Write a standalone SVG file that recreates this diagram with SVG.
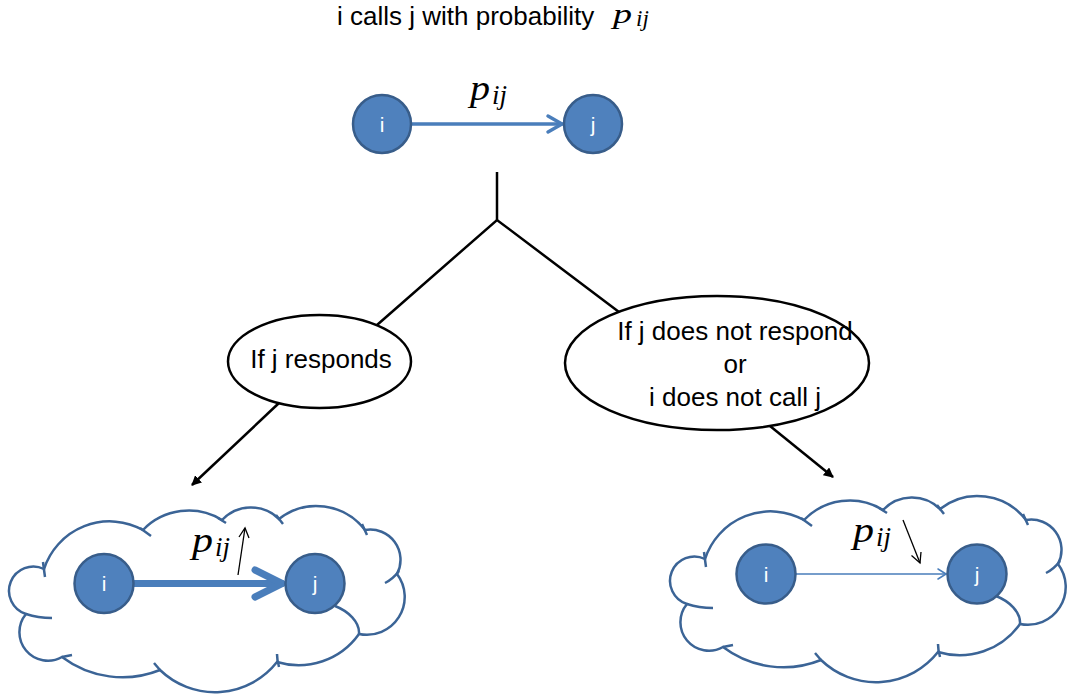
<svg xmlns="http://www.w3.org/2000/svg" xmlns:xlink="http://www.w3.org/1999/xlink" width="1069" height="696" viewBox="0 0 1069 696">
<style>
.txt{font-family:"Liberation Sans",Arial,sans-serif;font-size:26px;fill:#000}
.lbl{font-family:"Liberation Sans",Arial,sans-serif;font-size:21px;fill:#fff;text-anchor:middle}
.math{font-family:"Liberation Serif","Times New Roman",serif;font-style:italic;fill:#000}
.p{font-size:36px}
.sub{font-size:27px}
.node{fill:#4f81bd;stroke:#385d8a;stroke-width:2.5}
.ell{fill:#fff;stroke:#000;stroke-width:2.5}
.tree{fill:none;stroke:#000;stroke-width:2.5}
.blue{fill:none;stroke:#4a7ebb;stroke-linecap:round;stroke-linejoin:round}
.thin{fill:none;stroke:#000;stroke-width:1.3}
.cloud{fill:#fff;stroke:#3b6496;stroke-width:2.5}
.stub{fill:none;stroke:#3b6496;stroke-width:2.5}
</style>
<defs>
<g id="cloudShape">
<path class="cloud" d="M44,569 A69 69 0 0 1 143,530 A63.6 63.6 0 0 1 222,520 A39.8 39.8 0 0 1 279,519 A61 61 0 0 1 365,530 A30.3 30.3 0 0 1 397,574 A37.9 37.9 0 0 1 359,634 A74 74 0 0 1 277,662 A79 79 0 0 1 160,670 A100.5 100.5 0 0 1 62,657 A28.5 28.5 0 0 1 26,614 A24.3 24.3 0 1 1 44,569 Z"/>
<path class="stub" d="M43,562 Q44,570 45,577 M140,528 L151,536 M218,518 L226,523 M276,515 L283,524 M362,524 L367,535 M399,571 Q393,579 385,583 M359,634 C360,622 348,611 335,606 M279,667 Q277,660 277,654 M160,670 L154,663 M62,657 L72,655 M26,614 Q38,618 52,618"/>
</g>
<marker id="ah" markerWidth="10" markerHeight="10" refX="9" refY="5" orient="auto" markerUnits="userSpaceOnUse" viewBox="0 0 10 10">
<path d="M0,0 L10,5 L0,10 Z" fill="#000"/>
</marker>
</defs>

<text id="title" class="txt" x="337" y="25">i calls j with probability</text>
<g id="title-math" class="math">
<text x="613" y="23" font-size="28" textLength="19" lengthAdjust="spacingAndGlyphs">p</text>
<text x="636" y="26" font-size="23">ij</text>
</g>

<g id="cloud-left"><use xlink:href="#cloudShape"/></g>
<g id="cloud-right"><use xlink:href="#cloudShape" transform="translate(661,-10)"/></g>

<g id="connectors">
<line class="blue" x1="411" y1="124" x2="562" y2="124" stroke-width="3.5"/>
<polyline class="blue" points="548,116 562,124 548,132" stroke-width="3.5"/>
<line class="tree" x1="497" y1="172" x2="497" y2="220"/>
<polyline class="tree" points="377,325 497,220 619,312"/>
<line class="tree" x1="279" y1="403" x2="192" y2="485" marker-end="url(#ah)"/>
<line class="tree" x1="770" y1="426" x2="833" y2="477" marker-end="url(#ah)"/>
<line class="blue" x1="133" y1="583.5" x2="282" y2="583.5" stroke-width="7"/>
<polyline class="blue" points="255,570 282,583.5 255,597" stroke-width="7"/>
<line class="blue" x1="796" y1="574" x2="946" y2="574" stroke-width="1.5"/>
<polyline class="blue" points="938,569 946,574 938,579" stroke-width="1.5"/>
<line class="thin" x1="238" y1="575" x2="245" y2="528"/>
<polyline class="thin" points="239,537 245,528 249,538"/>
<line class="thin" x1="903" y1="520" x2="920" y2="563"/>
<polyline class="thin" points="911.5,555.5 920,563 921,552"/>
</g>

<g id="node-top-i"><circle class="node" cx="382" cy="124" r="29"/><text class="lbl" x="382" y="131.5">i</text></g>
<g id="node-top-j"><circle class="node" cx="593" cy="124" r="29"/><text class="lbl" x="593" y="131.5">j</text></g>
<g id="label-top" class="math">
<text class="p" x="470" y="100" textLength="20" lengthAdjust="spacingAndGlyphs">p</text>
<text class="sub" x="492" y="104">ij</text>
</g>

<g id="cond-responds"><ellipse class="ell" cx="319.5" cy="361.5" rx="91.5" ry="46.5"/><text class="txt" x="321" y="368" text-anchor="middle">If j responds</text></g>
<g id="cond-not"><ellipse class="ell" cx="717" cy="363" rx="152" ry="67"/>
<text class="txt" text-anchor="middle"><tspan x="735" y="340">If j does not respond</tspan><tspan x="735" y="373">or</tspan><tspan x="735" y="406">i does not call j</tspan></text></g>

<g id="node-left-i"><circle class="node" cx="104" cy="583.5" r="29.5"/><text class="lbl" x="104" y="591">i</text></g>
<g id="node-left-j"><circle class="node" cx="315" cy="583.5" r="29.5"/><text class="lbl" x="315" y="591">j</text></g>
<g id="label-left" class="math">
<text class="p" x="192" y="552" textLength="21" lengthAdjust="spacingAndGlyphs">p</text>
<text class="sub" x="215" y="556">ij</text>
</g>

<g id="node-right-i"><circle class="node" cx="766" cy="574" r="29.5"/><text class="lbl" x="766" y="581.5">i</text></g>
<g id="node-right-j"><circle class="node" cx="977" cy="574" r="29.5"/><text class="lbl" x="977" y="581.5">j</text></g>
<g id="label-right" class="math">
<text class="p" x="853" y="542" textLength="21" lengthAdjust="spacingAndGlyphs">p</text>
<text class="sub" x="876" y="546">ij</text>
</g>
</svg>
